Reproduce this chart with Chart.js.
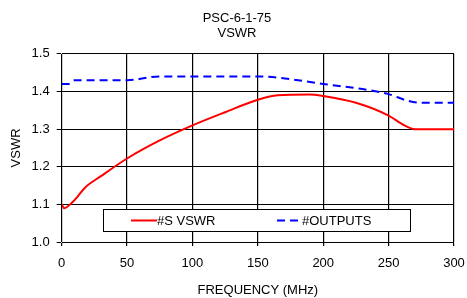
<!DOCTYPE html>
<html>
<head>
<meta charset="utf-8">
<script src="https://cdn.jsdelivr.net/npm/chart.js@4/dist/chart.umd.min.js"></script>
<style>
  html, body { margin: 0; padding: 0; background: #fff; }
  #wrap { width: 467px; height: 298px; }
</style>
</head>
<body>
<div id="wrap"><canvas id="myChart"></canvas></div>
<script>
// frequency (MHz) and VSWR values
const freqS = [0, 2, 8, 12, 18, 30, 50, 75, 100, 125, 150, 165, 190, 200, 225, 250, 262, 270, 285, 300];
const vswrS = [1.10, 1.09, 1.105, 1.12, 1.145, 1.175, 1.222, 1.27, 1.31, 1.345, 1.378, 1.39, 1.392, 1.388, 1.37, 1.336, 1.31, 1.30, 1.30, 1.30];
const freqOut = [0, 5, 10, 20, 50, 75, 100, 150, 200, 250, 265, 275, 300];
const vswrOut = [1.42, 1.42, 1.43, 1.43, 1.43, 1.44, 1.44, 1.44, 1.42, 1.393, 1.375, 1.37, 1.37];
const xStep = 50;
const yStep = 0.1;

const FONT = 'Liberation Sans, Arial, sans-serif';

function toPoints(xs, ys) {
  return xs.map((x, i) => ({ x: x, y: ys[i] }));
}

// legend drawn inside the plot, as a boxed row
const insideLegend = {
  id: 'insideLegend',
  afterDraw(chart) {
    const c = chart.ctx;
    const x0 = 103, y0 = 209, w = 307, h = 22;
    c.save();
    c.fillStyle = '#fff';
    c.fillRect(x0, y0, w, h);
    c.strokeStyle = '#000';
    c.lineWidth = 1;
    c.strokeRect(x0 + 0.5, y0 + 0.5, w, h);
    const my = y0 + h / 2 + 0.5;
    c.lineWidth = 2;
    c.strokeStyle = '#ff0000';
    c.beginPath(); c.moveTo(131, my); c.lineTo(157, my); c.stroke();
    c.strokeStyle = '#0000ff';
    c.setLineDash([8, 5]);
    c.beginPath(); c.moveTo(277, my); c.lineTo(302, my); c.stroke();
    c.setLineDash([]);
    c.fillStyle = '#000';
    c.font = '13px ' + FONT;
    c.textBaseline = 'middle';
    c.fillText('#S VSWR', 157, my + 1);
    c.fillText('#OUTPUTS', 302, my + 1);
    c.restore();
  }
};

const ctx = document.getElementById('myChart').getContext('2d');
const myChart = new Chart(ctx, {
  type: 'line',
  data: {
    datasets: [{
      label: '#S VSWR',
      data: toPoints(freqS, vswrS),
      borderColor: '#ff0000',
      borderWidth: 2,
      pointRadius: 0,
      cubicInterpolationMode: 'monotone'
    }, {
      label: '#OUTPUTS',
      data: toPoints(freqOut, vswrOut),
      borderColor: '#0000ff',
      borderWidth: 2,
      borderDash: [8, 5],
      pointRadius: 0,
      cubicInterpolationMode: 'monotone'
    }]
  },
  options: {
    responsive: true,
    maintainAspectRatio: false,
    animation: false,
    layout: { padding: { left: 9, right: 2, top: 9, bottom: 0 } },
    plugins: {
      legend: { display: false },
      tooltip: { enabled: false },
      title: {
        display: true,
        text: ['PSC-6-1-75', 'VSWR'],
        color: '#000',
        font: { family: FONT, size: 13, weight: 'normal', lineHeight: 1.15 },
        padding: { top: 2, bottom: 13 }
      }
    },
    scales: {
      x: {
        type: 'linear',
        min: 0,
        max: 300,
        afterFit: (scale) => {
          scale.height = 56;       // axis + labels + title under the plot
          scale.paddingRight = 13; // room left for the "300" label
        },
        ticks: { stepSize: xStep, color: '#000', font: { family: FONT, size: 13 }, padding: 10, maxRotation: 0 },
        grid: { color: '#000', lineWidth: 1.2, tickLength: 4 },
        title: { display: true, text: 'FREQUENCY (MHz)', color: '#000', font: { family: FONT, size: 13 }, padding: { top: 0, bottom: 0 } }
      },
      y: {
        min: 1.0,
        max: 1.5,
        ticks: { stepSize: yStep, color: '#000', font: { family: FONT, size: 13 }, padding: 7, callback: v => Number(v).toFixed(1) },
        grid: { color: '#000', lineWidth: 1, tickLength: 5 },
        title: { display: true, text: 'VSWR', color: '#000', font: { family: FONT, size: 13 }, padding: { top: 0, bottom: 0 } }
      }
    }
  },
  plugins: [insideLegend]
});
</script>
</body>
</html>
